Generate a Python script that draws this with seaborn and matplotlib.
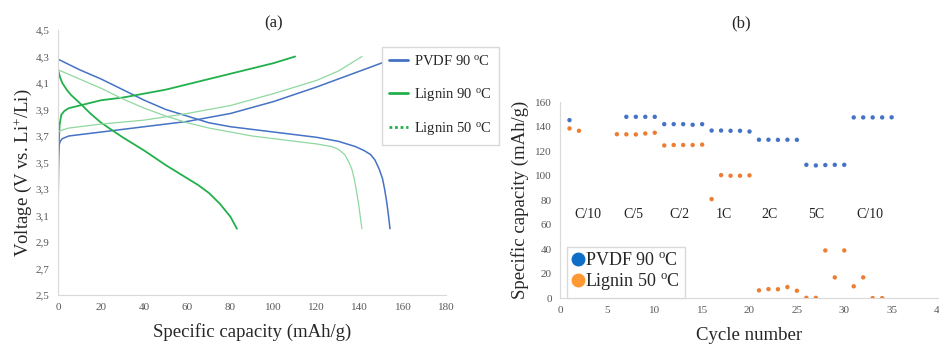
import matplotlib
matplotlib.use("Agg")
import matplotlib.pyplot as plt
from matplotlib.lines import Line2D
import seaborn as sns
import pandas as pd

sns.set_theme(style="white")
plt.rcParams["font.family"] = ["Liberation Serif", "DejaVu Serif"]
plt.rcParams["mathtext.fontset"] = "custom"
plt.rcParams["mathtext.rm"] = "Liberation Serif"
plt.rcParams["mathtext.it"] = "Liberation Serif:italic"

# ---- (a) charge / discharge profiles ----
pvdf90_chg_cap = [0, 0.2, 0.5, 1, 2, 5, 10, 20, 40, 60, 80, 100, 120, 140, 150, 156]
pvdf90_chg_v = [3.37, 3.55, 3.63, 3.66, 3.68, 3.70, 3.71, 3.73, 3.77, 3.81, 3.87, 3.96, 4.07, 4.19, 4.25, 4.30]
pvdf90_dis_cap = [0, 10, 20, 30, 40, 50, 60, 70, 80, 90, 100, 110, 120, 130, 138, 142, 145, 147,
                  149, 150.5, 151.5, 152.5, 153.3, 154]
pvdf90_dis_v = [4.28, 4.20, 4.13, 4.05, 3.97, 3.90, 3.85, 3.80, 3.77, 3.75, 3.73, 3.71, 3.69, 3.66, 3.62,
                3.59, 3.56, 3.52, 3.45, 3.38, 3.30, 3.20, 3.10, 3.00]

lig90_chg_cap = [0, 0.3, 0.7, 1.5, 3, 5, 10, 20, 30, 40, 50, 60, 70, 80, 90, 100, 110]
lig90_chg_v = [3.20, 3.60, 3.78, 3.86, 3.89, 3.91, 3.93, 3.97, 3.99, 4.02, 4.05, 4.09, 4.13, 4.17, 4.21, 4.25, 4.30]
lig90_dis_cap = [0, 0.5, 1, 2, 4, 6, 10, 15, 20, 30, 40, 50, 60, 65, 70, 75, 80, 83]
lig90_dis_v = [4.20, 4.17, 4.14, 4.10, 4.05, 4.01, 3.95, 3.87, 3.80, 3.69, 3.59, 3.48, 3.38, 3.33, 3.27, 3.19, 3.09, 3.00]

lig50_chg_cap = [0, 0.3, 1, 5, 20, 40, 60, 80, 100, 120, 130, 141]
lig50_chg_v = [3.70, 3.73, 3.74, 3.76, 3.79, 3.82, 3.87, 3.93, 4.02, 4.12, 4.19, 4.30]
lig50_dis_cap = [0, 10, 20, 30, 40, 50, 60, 70, 80, 90, 100, 110, 120, 127, 130, 133, 135, 136.5,
                 137.5, 138.5, 139.5, 140.3, 141]
lig50_dis_v = [4.20, 4.13, 4.06, 3.98, 3.91, 3.85, 3.80, 3.76, 3.73, 3.70, 3.68, 3.66, 3.64, 3.62,
               3.60, 3.56, 3.50, 3.44, 3.37, 3.28, 3.18, 3.08, 3.00]

volt_ticks = [2.5, 2.7, 2.9, 3.1, 3.3, 3.5, 3.7, 3.9, 4.1, 4.3, 4.5]
volt_tick_labels = ["2,5", "2,7", "2,9", "3,1", "3,3", "3,5", "3,7", "3,9", "4,1", "4,3", "4,5"]
cap_ticks = [0, 20, 40, 60, 80, 100, 120, 140, 160, 180]

# ---- (b) rate capability ----
pvdf_cycles = [1, 7, 8, 9, 10, 11, 12, 13, 14, 15, 16, 17, 18, 19, 20,
               21, 22, 23, 24, 25, 26, 27, 28, 29, 30, 31, 32, 33, 34, 35]
pvdf_capacity = [145.3, 148, 148, 148, 148, 142, 142, 142, 141.5, 142,
                 136.8, 136.8, 136.6, 136.6, 136, 129.3, 129.3, 129.2, 129.3, 129.2,
                 108.8, 108.3, 108.6, 108.8, 108.8, 147.5, 147.5, 147.5, 147.5, 147.6]
lignin_cycles = [1, 2, 6, 7, 8, 9, 10, 11, 12, 13, 14, 15, 16, 17, 18, 19, 20,
                 21, 22, 23, 24, 25, 26, 27, 28, 29, 30, 31, 32, 33, 34]
lignin_capacity = [138.5, 136.6, 133.8, 133.7, 133.6, 134.4, 135, 124.6, 125, 125, 125, 125.3,
                   80.8, 100.4, 99.9, 99.9, 100.2, 6.3, 7.3, 7.2, 9.0, 6.0,
                   0.2, 0.2, 38.9, 16.9, 38.9, 9.6, 16.9, 0, 0]
rate_labels = ["C/10", "C/5", "C/2", "1C", "2C", "5C", "C/10"]
rate_label_x = [2.9, 7.7, 12.6, 17.3, 22.1, 27.0, 32.7]
rate_label_y = 68

BLUE = "#4472C4"
GREEN = "#22B04B"
LIGHT_GREEN = "#8fd8a0"
ORANGE = "#ED7D31"
SPINE = "#D9D9D9"
TICK = "#595959"

fig = plt.figure(figsize=(9.39, 3.45), dpi=100)
ax1 = fig.add_axes([0.0618, 0.145, 0.4132, 0.768])
ax2 = fig.add_axes([0.5964, 0.136, 0.4036, 0.568])

def curve(ax, x, y, color, lw, ls="-"):
    df = pd.DataFrame({"cap": x, "volt": y})
    sns.lineplot(data=df, x="cap", y="volt", sort=False, estimator=None,
                 color=color, lw=lw, ls=ls, ax=ax)

curve(ax1, pvdf90_chg_cap, pvdf90_chg_v, BLUE, 1.1)
curve(ax1, pvdf90_dis_cap, pvdf90_dis_v, BLUE, 1.1)
curve(ax1, lig90_chg_cap, lig90_chg_v, GREEN, 1.3)
curve(ax1, lig90_dis_cap, lig90_dis_v, GREEN, 1.3)
curve(ax1, lig50_chg_cap, lig50_chg_v, LIGHT_GREEN, 0.9)
curve(ax1, lig50_dis_cap, lig50_dis_v, LIGHT_GREEN, 0.9)

ax1.set_xlim(0, 180)
ax1.set_ylim(2.5, 4.5)
ax1.set_xticks(cap_ticks)
ax1.set_yticks(volt_ticks)
ax1.set_yticklabels(volt_tick_labels)
ax1.set_xlabel("Specific capacity (mAh/g)", fontsize=13.5, labelpad=8)
ax1.set_ylabel("Voltage (V vs. Li$^{+}$/Li)", fontsize=13.5, labelpad=5)
ax1.yaxis.set_label_coords(-0.062, 0.46)
fig.text(274 / 939, 1 - 23 / 345, "(a)", fontsize=12, ha="center", va="center")

pv = pd.DataFrame({"cycle": pvdf_cycles, "cap": pvdf_capacity})
lg = pd.DataFrame({"cycle": lignin_cycles, "cap": lignin_capacity})
sns.scatterplot(data=pv, x="cycle", y="cap", color=BLUE, s=10, edgecolor="none", ax=ax2)
sns.scatterplot(data=lg, x="cycle", y="cap", color=ORANGE, s=10, edgecolor="none", ax=ax2)
for lab, xv in zip(rate_labels, rate_label_x):
    ax2.text(xv, rate_label_y, lab, ha="center", va="center", fontsize=10, color="#222222")

ax2.set_xlim(0, 40)
ax2.set_ylim(0, 160)
ax2.set_xticks([0, 5, 10, 15, 20, 25, 30, 35, 40])
ax2.set_yticks(list(range(0, 161, 20)))
ax2.set_xlabel("Cycle number", fontsize=13.5, labelpad=8)
ax2.set_ylabel("Specific capacity (mAh/g)", fontsize=13.5, labelpad=4)
fig.text(741 / 939, 1 - 23 / 345, "(b)", fontsize=12, ha="center", va="center")

for ax in (ax1, ax2):
    for side in ("top", "right"):
        ax.spines[side].set_visible(False)
    for side in ("left", "bottom"):
        ax.spines[side].set_color(SPINE)
        ax.spines[side].set_linewidth(0.8)
    ax.tick_params(axis="both", length=0, labelsize=8, labelcolor=TICK, pad=6)
    ax.grid(False)

# legend for profiles
h1 = [Line2D([], [], color=BLUE, lw=2),
      Line2D([], [], color=GREEN, lw=2),
      Line2D([], [], color=GREEN, lw=2, ls=(0, (1, 1)))]
fig.legend(h1, ["PVDF 90 $^{\\mathrm{o}}$C", "Lignin 90 $^{\\mathrm{o}}$C", "Lignin 50 $^{\\mathrm{o}}$C"],
           loc="upper left", bbox_to_anchor=(382 / 939, 1 - 47 / 345),
           fontsize=10.5, frameon=True, fancybox=False, edgecolor=SPINE,
           framealpha=1, labelspacing=1.2, handlelength=1.3, borderpad=0.5,
           handletextpad=0.4, borderaxespad=0)

h2 = [Line2D([], [], marker="o", ls="none", color="#0F6FC6", markersize=9),
      Line2D([], [], marker="o", ls="none", color="#FF9933", markersize=9)]
fig.legend(h2, ["PVDF 90 $^{\\mathrm{o}}$C", "Lignin 50 $^{\\mathrm{o}}$C"],
           loc="upper left", bbox_to_anchor=(567 / 939, 1 - 247 / 345),
           fontsize=13, frameon=True, fancybox=False, edgecolor=SPINE,
           framealpha=1, labelspacing=0.1, handlelength=0.6, borderpad=0.3,
           handletextpad=0.1, borderaxespad=0)

fig.savefig("out.png", dpi=100)
